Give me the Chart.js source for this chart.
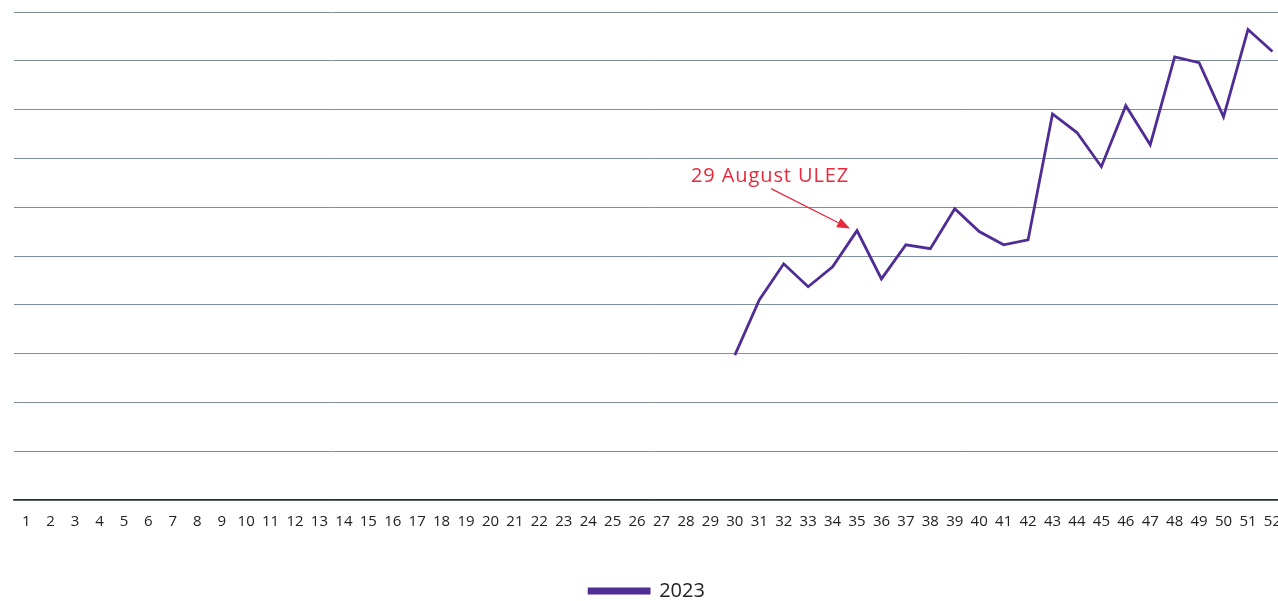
<!DOCTYPE html>
<html>
<head>
<meta charset="utf-8">
<script src="https://cdn.jsdelivr.net/npm/chart.js@4/dist/chart.umd.min.js"></script>
<style>
  html, body { margin: 0; padding: 0; background: #fff; overflow: hidden; }
  #wrap { width: 1286px; height: 611px; position: relative; }
</style>
</head>
<body>
<div id="wrap"><canvas id="myChart"></canvas></div>
<script>
// week numbers along the x axis
const weeks = ['1','2','3','4','5','6','7','8','9','10','11','12','13','14','15','16','17','18','19','20',
  '21','22','23','24','25','26','27','28','29','30','31','32','33','34','35','36','37','38','39','40',
  '41','42','43','44','45','46','47','48','49','50','51','52'];

// 2023 series (no data before week 30) in gridline units
const values2023 = [null, null, null, null, null, null, null, null, null, null,
  null, null, null, null, null, null, null, null, null, null,
  null, null, null, null, null, null, null, null, null,
  2.97, 4.10, 4.84, 4.37, 4.78, 5.52, 4.53, 5.23, 5.15, 5.97,
  5.50, 5.23, 5.33, 7.91, 7.53, 6.83, 8.08, 7.28, 9.08, 8.96,
  7.85, 9.64, 9.19];

const noteLabel = '29 August ULEZ';
const noteWeek = '35';

const purple = '#502d95';
const red = '#e8283c';

// draws the red label and arrow pointing at the note week
const notePlugin = {
  id: 'note',
  afterDatasetsDraw(chart) {
    const c = chart.ctx;
    const i = weeks.indexOf(noteWeek);
    const px = chart.scales.x.getPixelForValue(i);
    const py = chart.scales.y.getPixelForValue(values2023[i]);
    const tx = px - 7, ty = py - 2;
    const sx = px - 86, sy = py - 42;
    c.save();
    c.fillStyle = red;
    c.strokeStyle = red;
    c.font = '20px "Open Sans"';
    c.letterSpacing = '0.9px';
    c.textBaseline = 'middle';
    c.fillText(noteLabel, px - 166, py - 54);
    const ang = Math.atan2(ty - sy, tx - sx);
    const hl = 13, hw = 5;
    const bx = tx - hl * Math.cos(ang), by = ty - hl * Math.sin(ang);
    c.lineWidth = 1.3;
    c.beginPath();
    c.moveTo(sx, sy);
    c.lineTo(bx, by);
    c.stroke();
    c.beginPath();
    c.moveTo(tx, ty);
    c.lineTo(bx + hw * Math.sin(ang), by - hw * Math.cos(ang));
    c.lineTo(bx - hw * Math.sin(ang), by + hw * Math.cos(ang));
    c.closePath();
    c.fill();
    c.restore();
  }
};

let ctx = document.getElementById('myChart').getContext('2d');
let chart = new Chart(ctx, {
  type: 'line',
  data: {
    labels: weeks,
    datasets: [
      {
        label: '2023',
        data: values2023,
        borderColor: purple,
        backgroundColor: purple,
        borderWidth: 2.8,
        pointRadius: 0,
        tension: 0
      }
    ]
  },
  options: {
    responsive: true,
    maintainAspectRatio: false,
    animation: false,
    layout: { padding: { left: 8, top: 12, right: 0, bottom: 0 } },
    plugins: {
      tooltip: { enabled: false },
      legend: {
        position: 'bottom',
        labels: {
          boxWidth: 60,
          boxHeight: 4,
          padding: 2,
          color: '#222',
          font: { family: 'Open Sans', size: 20 }
        }
      }
    },
    scales: {
      x: {
        offset: true,
        grid: { display: false },
        border: { display: true, color: '#333', width: 1.5 },
        afterFit(scale) { scale.height = 79; },
        ticks: {
          autoSkip: false,
          maxRotation: 0,
          padding: 5,
          color: '#222',
          font: { family: 'Open Sans', size: 15 }
        }
      },
      y: {
        min: 0,
        max: 10,
        border: { display: false },
        afterFit(scale) { scale.width = 6; },
        grid: { color: '#7f8d99', lineWidth: 1, drawTicks: false },
        ticks: { display: false, stepSize: 1 }
      }
    }
  },
  plugins: [notePlugin]
});
</script>
</body>
</html>
